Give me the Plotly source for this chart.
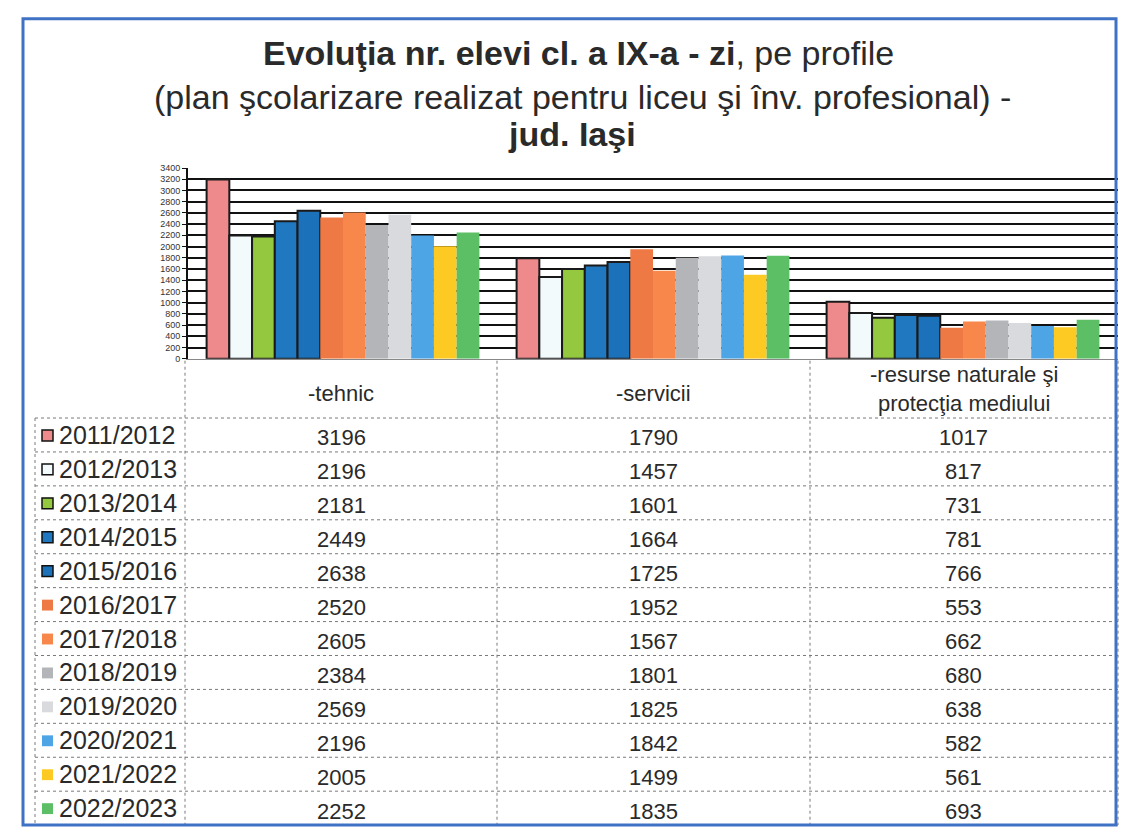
import plotly.graph_objects as go

# Profiles (categories) and school years (series)
profiles = ["-tehnic", "-servicii", "-resurse naturale şi<br>protecţia mediului"]
years = ["2011/2012", "2012/2013", "2013/2014", "2014/2015", "2015/2016", "2016/2017",
         "2017/2018", "2018/2019", "2019/2020", "2020/2021", "2021/2022", "2022/2023"]

# Number of 9th-grade students per profile, one list per school year
v_2011 = [3196, 1790, 1017]
v_2012 = [2196, 1457, 817]
v_2013 = [2181, 1601, 731]
v_2014 = [2449, 1664, 781]
v_2015 = [2638, 1725, 766]
v_2016 = [2520, 1952, 553]
v_2017 = [2605, 1567, 662]
v_2018 = [2384, 1801, 680]
v_2019 = [2569, 1825, 638]
v_2020 = [2196, 1842, 582]
v_2021 = [2005, 1499, 561]
v_2022 = [2252, 1835, 693]
series = [v_2011, v_2012, v_2013, v_2014, v_2015, v_2016,
          v_2017, v_2018, v_2019, v_2020, v_2021, v_2022]

y_ticks = list(range(0, 3401, 200))

colors = ["#EE8A8C", "#F3FAFC", "#93C83F", "#1F78C0", "#1B72BA", "#EE7945",
          "#F7874A", "#B3B5B8", "#D8DADE", "#4DA5E6", "#FCCA22", "#5CBF66"]
outlined = [True, True, True, True, True, False, False, False, False, False, False, False]

W, H = 1121, 839
FONT = "Liberation Sans, Arial, sans-serif"


def fx(px):
    return px / W


def fy(py):
    return 1 - py / H


def label(x, y, text, size, xanchor="center", align="center"):
    fig.add_annotation(x=fx(x), y=fy(y), xref="paper", yref="paper", showarrow=False,
                       xanchor=xanchor, yanchor="middle", align=align, text=text,
                       font=dict(family=FONT, size=size, color="#2a2a2a"))


cat_x = [0, 1, 2]

fig = go.Figure()
for name, vals, col, edge in zip(years, series, colors, outlined):
    fig.add_trace(go.Bar(
        x=cat_x, y=vals, name=name,
        marker=dict(color=col,
                    line=dict(color="#1a1a1a" if edge else col, width=2 if edge else 0)),
        showlegend=False,
    ))

PLOT_L, PLOT_R, PLOT_T, PLOT_B = 188, 1118, 165, 358

fig.update_layout(
    width=W, height=H,
    margin=dict(l=0, r=0, t=0, b=0),
    paper_bgcolor="white", plot_bgcolor="white",
    barmode="group", bargap=0.12, bargroupgap=0,
    font=dict(family=FONT, color="#222"),
    xaxis=dict(domain=[fx(PLOT_L), fx(PLOT_R)], range=[-0.5, 2.5],
               showticklabels=False, showgrid=False, zeroline=False,
               showline=True, linecolor="#888", linewidth=1, ticks=""),
    yaxis=dict(domain=[fy(PLOT_B), fy(PLOT_T)], range=[0, 3400],
               tickvals=y_ticks, ticktext=[str(t) for t in y_ticks],
               tickfont=dict(size=9, color="#333"),
               showgrid=True, gridcolor="#111", gridwidth=1.6,
               zeroline=False, showline=True, linecolor="#111", linewidth=2,
               ticks="outside", ticklen=4, tickcolor="#111"),
)

# Title
label(578, 49, "<b>Evoluţia nr. elevi cl. a IX-a - zi</b>, pe profile", 34)
label(582, 93, "(plan şcolarizare realizat pentru liceu şi înv. profesional) -", 34)
label(572, 131, "<b>jud. Iaşi</b>", 34)

# Data table under the plot
col_edges = [185, 497, 810, 1118]
head_top, head_bot = 360, 418
row_h = (830 - head_bot) / len(years)
line_style = dict(color="#7a7a7a", width=1, dash="dot")


def seg(x0, y0, x1, y1, line=line_style):
    fig.add_shape(type="line", xref="paper", yref="paper",
                  x0=fx(x0), y0=fy(y0), x1=fx(x1), y1=fy(y1), line=line)


for xe in col_edges:
    seg(xe, head_top, xe, 830)
seg(35, head_bot, 35, 830)
seg(35, head_bot, 1118, head_bot)
for i in range(1, len(years) + 1):
    seg(35, head_bot + i * row_h, 1118, head_bot + i * row_h)

for j, text in enumerate(profiles):
    cx = (col_edges[j] + col_edges[j + 1]) / 2
    label(cx, (head_top + head_bot) / 2 + (4 if j < 2 else 0), text, 22)

for i, (name, vals, col, edge) in enumerate(zip(years, series, colors, outlined)):
    cy = head_bot + (i + 0.5) * row_h
    # legend key and year label
    fig.add_shape(type="rect", xref="paper", yref="paper",
                  x0=fx(42), x1=fx(53), y0=fy(cy - 5), y1=fy(cy + 6),
                  fillcolor=col, line=dict(color="#111" if edge else col, width=1.5 if edge else 0))
    label(57, cy, name, 25, xanchor="left")
    for j, v in enumerate(vals):
        cx = (col_edges[j] + col_edges[j + 1]) / 2
        label(cx, cy + 3, str(v), 22)

# Outer frame
fig.add_shape(type="rect", xref="paper", yref="paper",
              x0=fx(23), x1=fx(1116), y0=fy(14), y1=fy(830),
              line=dict(color="#3F72C4", width=3), fillcolor="rgba(0,0,0,0)")

fig.write_html("out.html")
